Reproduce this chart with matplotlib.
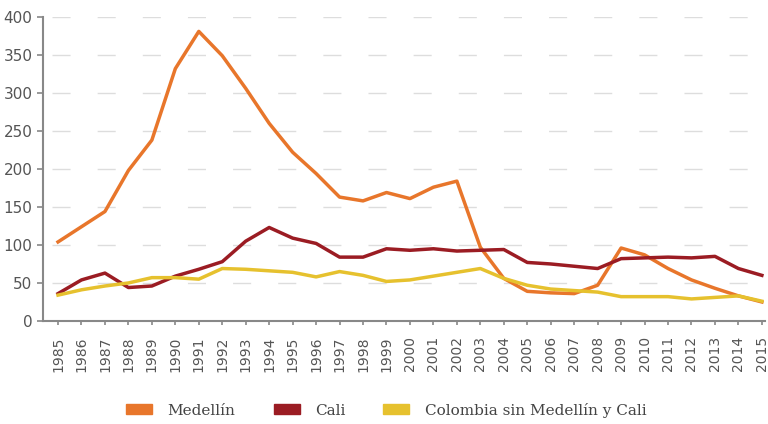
import matplotlib
matplotlib.use('Agg')
import matplotlib.pyplot as plt
from matplotlib.patches import Patch

years = list(range(1985, 2016))
medellin = [104, 124, 144, 198, 238, 332, 381, 349, 306, 260, 222, 194, 163, 158, 169,
            161, 176, 184, 97, 56, 39, 37, 36, 47, 96, 87, 69, 54, 43, 33, 25]
cali = [36, 54, 63, 44, 46, 59, 68, 78, 105, 123, 109, 102, 84, 84, 95,
        93, 95, 92, 93, 94, 77, 75, 72, 69, 82, 83, 84, 83, 85, 69, 60]
colombia = [34, 41, 46, 50, 57, 57, 55, 69, 68, 66, 64, 58, 65, 60, 52,
            54, 59, 64, 69, 56, 47, 42, 40, 38, 32, 32, 32, 29, 31, 33, 26]
names = ['Medellín', 'Cali', 'Colombia sin Medellín y Cali']
colors = ['#E8762B', '#9B1C23', '#E6C12E']

fig = plt.figure(figsize=(7.68, 4.24), dpi=100)
ax = fig.add_axes([0.056, 0.243, 0.94, 0.717])

for vals, c in zip([medellin, cali, colombia], colors):
    ax.plot(years, vals, color=c, lw=2.5, solid_joinstyle='round')

ax.set_xlim(1984.36, 2015.13)
ax.set_ylim(0, 400)
ax.set_yticks(range(0, 401, 50))
ax.set_xticks(years)
ax.set_xticklabels([str(y) for y in years], rotation=90)
ax.grid(axis='y', color='#dddddd', lw=1, linestyle=(26, (13, 19.5)))
ax.set_axisbelow(True)

for s in ['top', 'right']:
    ax.spines[s].set_visible(False)
for s in ['left', 'bottom']:
    ax.spines[s].set_color('#888888')
    ax.spines[s].set_linewidth(1.5)
ax.tick_params(axis='x', colors='#888888', labelcolor='#555555', labelsize=10, length=3,
               width=1.2, pad=8)
ax.tick_params(axis='y', colors='#888888', labelcolor='#555555', labelsize=11, length=4, width=1.2)

handles = [Patch(color=c, label=n) for n, c in zip(names, colors)]
fig.legend(handles=handles, loc='center', bbox_to_anchor=(0.503, 0.033), ncol=3,
           frameon=False, handlelength=1.7, handleheight=0.6, handletextpad=1.0,
           columnspacing=2.5, prop={'family': 'DejaVu Serif', 'size': 11},
           labelcolor='#444444')

fig.savefig('out.png', dpi=100)
